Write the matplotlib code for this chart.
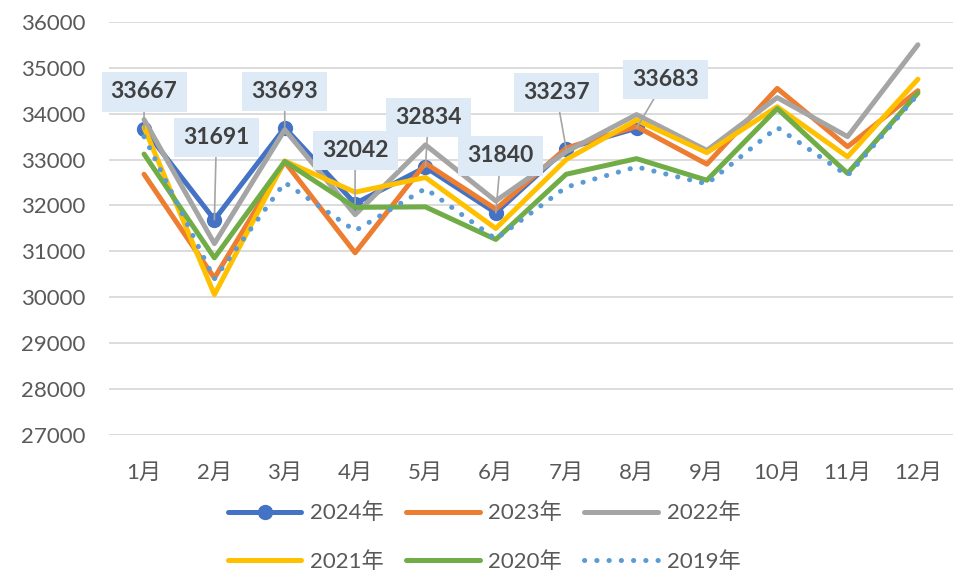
import matplotlib
matplotlib.use('Agg')
import matplotlib.pyplot as plt

plt.rcParams['font.family'] = ['Lato', 'Noto Sans CJK SC']

months = ['1月', '2月', '3月', '4月', '5月', '6月',
          '7月', '8月', '9月', '10月', '11月', '12月']

y2024 = [33667, 31691, 33693, 32042, 32834, 31840, 33237, 33683]
y2023 = [32680, 30420, 32950, 30970, 32920, 31920, 33250, 33720,
         32900, 34550, 33280, 34500]
y2022 = [33870, 31170, 33650, 31800, 33320, 32100, 33170, 33980,
         33200, 34350, 33500, 35500]
y2021 = [33700, 30060, 32970, 32290, 32610, 31500, 33000, 33860,
         33150, 34150, 33060, 34750]
y2020 = [33120, 30860, 32960, 31960, 31970, 31260, 32680, 33020,
         32550, 34110, 32700, 34450]
y2019 = [33500, 30400, 32500, 31450, 32370, 31270, 32400, 32840,
         32470, 33700, 32650, 34420]

yticks = list(range(27000, 36001, 1000))

# pixel offsets of the data label boxes (x, y) from their points
label_offsets = [(0, 37), (2, 82), (0, 36), (0, 53),
                 (3, 50), (5, 57), (-10, 56), (29, 49)]

text_color = '#595959'

fig = plt.figure(figsize=(9.55, 5.74), dpi=100)
ax = fig.add_axes([0.114, 0.242, 0.884, 0.720])

x_all = list(range(len(months)))

l24, = ax.plot(range(len(y2024)), y2024, color='#4472C4', lw=3.6,
               marker='o', markersize=10, solid_capstyle='round',
               solid_joinstyle='round', label='2024年')
l23, = ax.plot(x_all, y2023, color='#ED7D31', lw=3.6, solid_capstyle='round',
               solid_joinstyle='round', label='2023年')
l22, = ax.plot(x_all, y2022, color='#A5A5A5', lw=3.6, solid_capstyle='round',
               solid_joinstyle='round', label='2022年')
l21, = ax.plot(x_all, y2021, color='#FFC000', lw=3.6, solid_capstyle='round',
               solid_joinstyle='round', label='2021年')
l20, = ax.plot(x_all, y2020, color='#70AD47', lw=3.6, solid_capstyle='round',
               solid_joinstyle='round', label='2020年')
l19, = ax.plot(x_all, y2019, color='#5B9BD5', lw=3.6,
               linestyle=(0, (0.05, 2.4)), dash_capstyle='round',
               label='2019年')

for i, v in enumerate(y2024):
    dx, dy = label_offsets[i]
    ax.annotate(str(v), xy=(i, v), xytext=(dx, dy),
                textcoords='offset pixels', ha='center', va='center',
                fontsize=16.5, fontweight='bold', color='#404040',
                bbox=dict(boxstyle='square,pad=0.4', fc='#DEEAF6', ec='none'),
                arrowprops=dict(arrowstyle='-', color='#A5A5A5', lw=1.2,
                                shrinkA=0, shrinkB=0),
                zorder=10)

ax.set_xlim(-0.5, len(months) - 0.5)
ax.set_ylim(27000, 36000)
ax.set_yticks(yticks)
ax.set_xticks(x_all)
ax.set_xticklabels(months)
ax.tick_params(axis='both', length=0, labelsize=16, labelcolor=text_color)
ax.tick_params(axis='y', pad=17)
ax.tick_params(axis='x', pad=20)
ax.grid(axis='y', color='#D9D9D9', lw=1.3)
ax.set_axisbelow(True)
for s in ax.spines.values():
    s.set_visible(False)

# legend fills column by column, so order the handles for row-wise reading
handles = [l24, l21, l23, l20, l22, l19]
fig.legend(handles=handles, labels=[h.get_label() for h in handles],
           loc='center', bbox_to_anchor=(0.507, 0.064), ncol=3, frameon=False,
           fontsize=16, labelcolor=text_color, handlelength=3.3,
           handletextpad=0.4, columnspacing=1.0, labelspacing=1.25)

fig.savefig('out.png', dpi=100)
